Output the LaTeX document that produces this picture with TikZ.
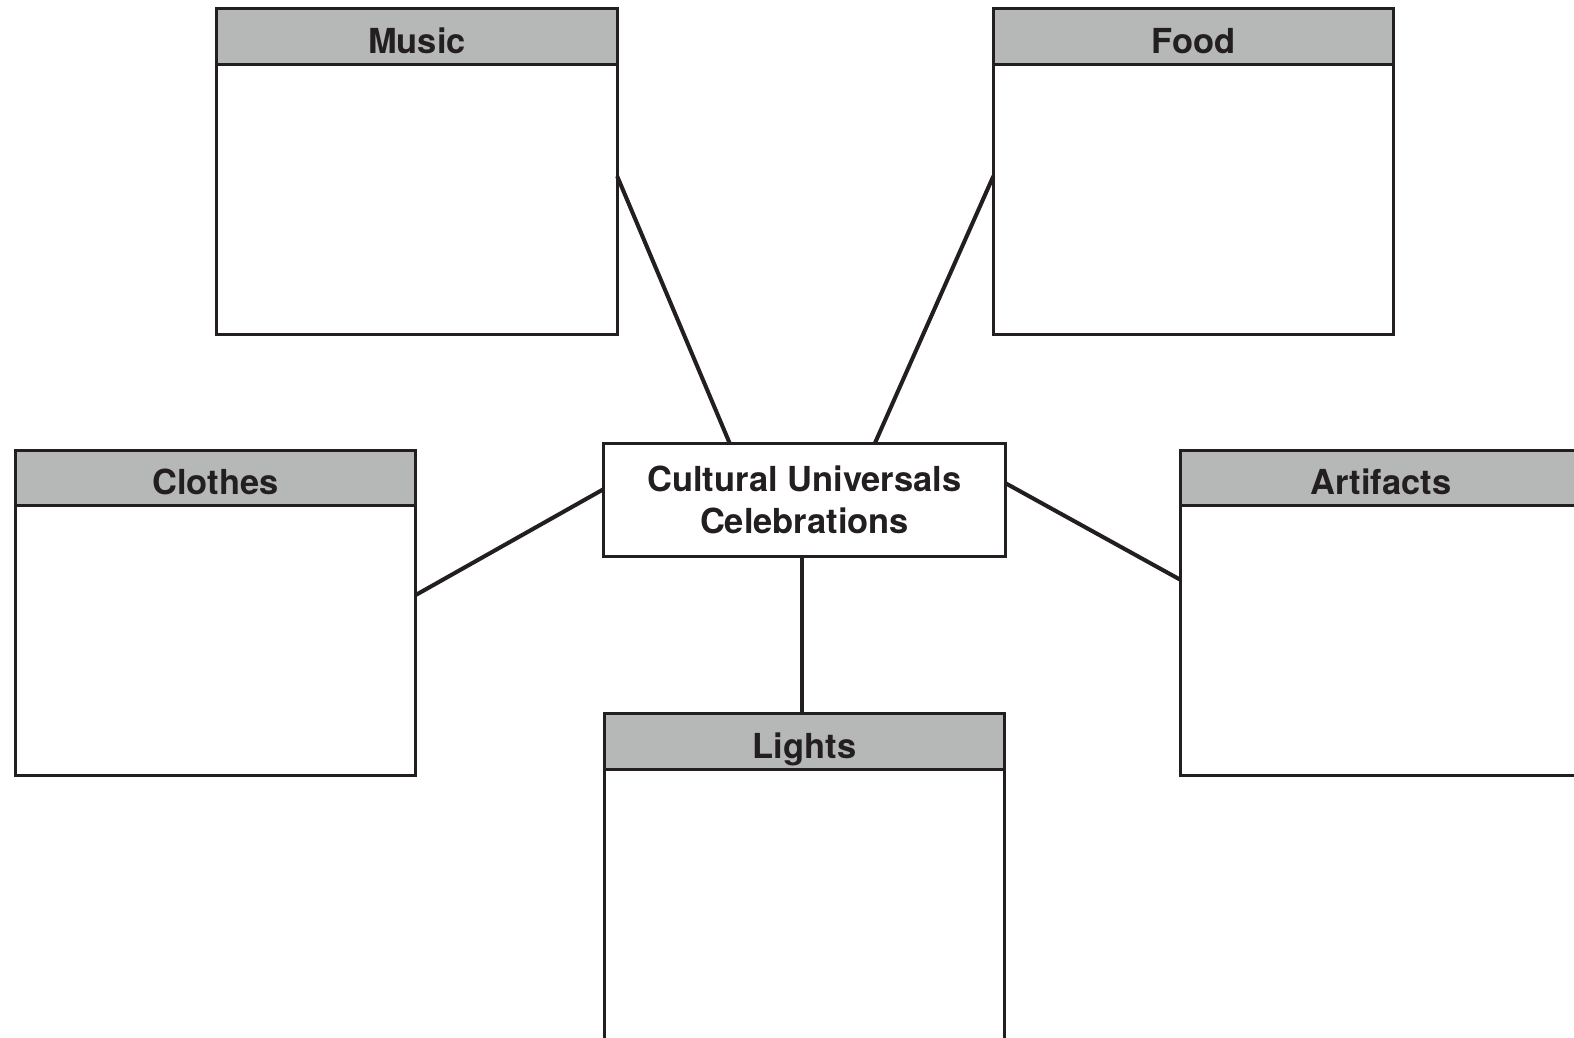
\documentclass[tikz,border=0pt]{standalone}
\usepackage{fontspec}
\setmainfont{TeX Gyre Heros}
\usetikzlibrary{calc, positioning}
\definecolor{headgray}{HTML}{B6B8B7}
\definecolor{inkline}{HTML}{231F20}
\tikzset{
    head/.style={draw=inkline, fill=headgray, line width=0.85pt, outer sep=0pt, inner ysep=0pt, minimum width=4cm, minimum height=0.55cm, text height=9.6pt, text depth=0pt, font=\fontsize{9.8}{11}\selectfont\bfseries, text=inkline},
    body/.style={draw=inkline, line width=0.85pt, outer sep=0pt, minimum width=4cm, minimum height=2.7cm},
    link/.style={draw=inkline, line width=1.15pt},
}

\begin{document}
\begin{tikzpicture}[x=0.01cm, y=0.01cm]

    \useasboundingbox (0,0) rectangle (1574,-1037);
    \clip (0,0) rectangle (1574,-1037);

    % Nodes
    \node (center) at (804.5,-500) [draw=inkline, line width=0.85pt, outer sep=0pt, minimum width=4.01cm, minimum height=1.12cm, align=center, font=\fontsize{9.8}{12}\selectfont\bfseries, text=inkline] {Cultural Universals\\Celebrations};

    \node (music) at (417,-36.5) [head] {Music};
    \node (musicbody) [body, below=0pt of music] {};

    \node (food) at (1193.5,-36.5) [head] {Food};
    \node (foodbody) [body, below=0pt of food] {};

    \node (clothes) at (215.5,-478) [head] {Clothes};
    \node (clothesbody) [body, below=0pt of clothes] {};

    \node (artifacts) at (1381,-478) [head] {Artifacts};
    \node (artifactsbody) [body, below=0pt of artifacts] {};

    \node (lights) at (804.5,-741.5) [head] {Lights};
    \node (lightsbody) [body, below=0pt of lights] {};

    % Connectors
    \draw [link] ([yshift=0.23cm]musicbody.east) -- ([xshift=-0.745cm]center.north);
    \draw [link] ([yshift=0.23cm]foodbody.west) -- ([xshift=0.70cm]center.north);
    \draw [link] ([yshift=0.455cm]clothesbody.east) -- ([yshift=0.11cm]center.west);
    \draw [link] ([yshift=0.605cm]artifactsbody.west) -- ([yshift=0.17cm]center.east);
    \draw [link] ([xshift=-0.025cm]center.south) -- ([xshift=-0.025cm]lights.north);

\end{tikzpicture}
\end{document}
